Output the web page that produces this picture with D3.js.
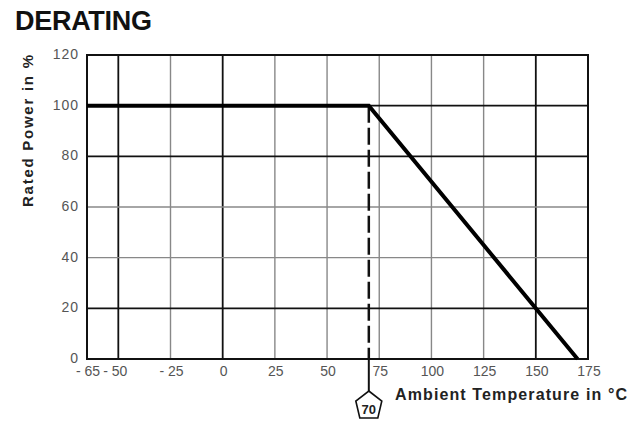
<!DOCTYPE html>
<html lang="en">
<head>
<meta charset="UTF-8">
<title>Derating</title>
<script src="https://d3js.org/d3.v7.min.js"></script>
<style>
  body { margin: 0; background: #fff; }
  svg { font-family: "Liberation Sans", Arial, sans-serif; }
</style>
</head>
<body>
<svg width="632" height="423"></svg>
<script>
// derating curve: temperature (°C) vs rated power (%)
const temps = [-65, 70, 170];
const power = [100, 100, 0];
const xTicks = [-65, -50, -25, 0, 25, 50, 75, 100, 125, 150, 175];
const yTicks = [0, 20, 40, 60, 80, 100, 120];
const kneeTemp = 70;
// gridlines that print darker in the original sheet
const darkX = [-50, 0, 150];
const darkY = [20, 80, 100];

const svg = d3.select("svg");
const x = d3.scaleLinear().domain([-65, 175]).range([87, 588]);
const y = d3.scaleLinear().domain([0, 120]).range([359, 55]);

svg.append("text")
    .attr("x", 15).attr("y", 30)
    .attr("font-size", 27).attr("font-weight", "bold").attr("fill", "#111")
    .attr("textLength", 137)
    .text("DERATING");

// grid
svg.append("g").selectAll("line")
    .data(xTicks.slice(1, -1))
    .enter().append("line")
    .attr("x1", d => x(d)).attr("x2", d => x(d))
    .attr("y1", y(120)).attr("y2", y(0))
    .attr("stroke", d => darkX.includes(d) ? "#111" : "#888")
    .attr("stroke-width", d => darkX.includes(d) ? 1.8 : 1.4);

svg.append("g").selectAll("line")
    .data(yTicks.slice(1, -1))
    .enter().append("line")
    .attr("x1", x(-65)).attr("x2", x(175))
    .attr("y1", d => y(d)).attr("y2", d => y(d))
    .attr("stroke", d => darkY.includes(d) ? "#111" : "#888")
    .attr("stroke-width", d => darkY.includes(d) ? 1.8 : 1.4);

svg.append("rect")
    .attr("x", x(-65)).attr("y", y(120))
    .attr("width", x(175) - x(-65)).attr("height", y(0) - y(120))
    .attr("fill", "none").attr("stroke", "#111").attr("stroke-width", 2);

// tick labels
svg.append("g").selectAll("text")
    .data(yTicks)
    .enter().append("text")
    .attr("x", 79).attr("y", d => y(d) + 4)
    .attr("text-anchor", "end")
    .attr("font-size", 14).attr("letter-spacing", 1).attr("fill", "#555")
    .text(d => d);

svg.append("g").selectAll("text")
    .data(xTicks)
    .enter().append("text")
    .attr("x", d => d == -50 ? x(d) - 3 : x(d) + 1).attr("y", 376)
    .attr("text-anchor", "middle")
    .attr("font-size", 14).attr("fill", "#555")
    .text(d => d < 0 ? "- " + (-d) : d);

// knee marker
svg.append("line")
    .attr("x1", x(kneeTemp)).attr("x2", x(kneeTemp))
    .attr("y1", y(100)).attr("y2", y(0))
    .attr("stroke", "#111").attr("stroke-width", 2.5)
    .attr("stroke-dasharray", "17,5");

svg.append("line")
    .attr("x1", x(kneeTemp)).attr("x2", x(kneeTemp))
    .attr("y1", y(0)).attr("y2", 391)
    .attr("stroke", "#111").attr("stroke-width", 2);

const cx = x(kneeTemp);
const pent = [[cx, 391], [cx + 13, 401], [cx + 9, 418], [cx - 9, 418], [cx - 13, 401]];
svg.append("path")
    .attr("d", d3.line()(pent) + "Z")
    .attr("fill", "#fff").attr("stroke", "#111").attr("stroke-width", 1.6);
svg.append("text")
    .attr("x", cx).attr("y", 414)
    .attr("text-anchor", "middle")
    .attr("font-size", 13).attr("font-weight", "bold").attr("fill", "#222")
    .text(kneeTemp);

// derating curve
svg.append("path")
    .datum(temps.map((t, i) => [t, power[i]]))
    .attr("d", d3.line().x(d => x(d[0])).y(d => y(d[1])))
    .attr("fill", "none").attr("stroke", "#000").attr("stroke-width", 4)
    .attr("stroke-linejoin", "miter");

// axis titles
svg.append("text")
    .attr("x", 395).attr("y", 400)
    .attr("font-size", 16).attr("font-weight", "bold").attr("fill", "#222")
    .attr("textLength", 232)
    .text("Ambient Temperature in °C");

svg.append("text")
    .attr("transform", "translate(33,131) rotate(-90)")
    .attr("text-anchor", "middle")
    .attr("font-size", 15).attr("font-weight", "bold").attr("fill", "#222")
    .attr("textLength", 152)
    .text("Rated Power in %");
</script>
</body>
</html>
